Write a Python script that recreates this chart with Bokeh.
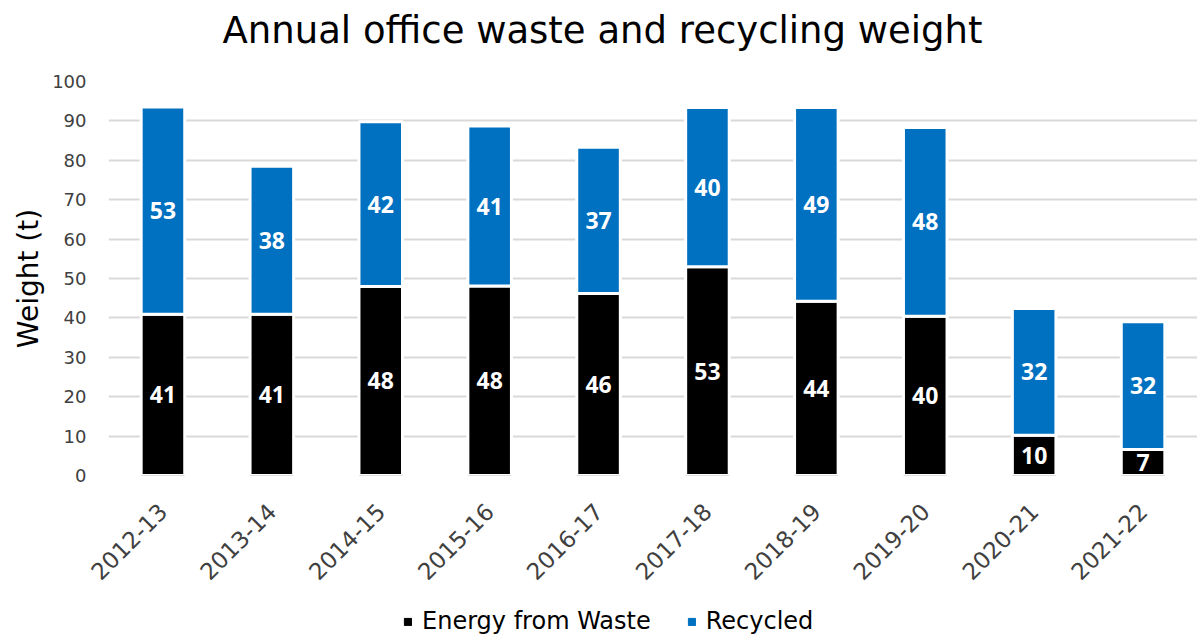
from bokeh.plotting import figure
from bokeh.layouts import column
from bokeh.models import ColumnDataSource, LabelSet, Legend, LegendItem, Range1d, FactorRange
from bokeh.core.properties import value
from bokeh.embed import file_html
from bokeh.resources import INLINE
from math import pi

years = ["2012-13", "2013-14", "2014-15", "2015-16", "2016-17",
         "2017-18", "2018-19", "2019-20", "2020-21", "2021-22"]
energy_from_waste = [40.9, 40.9, 48.0, 48.1, 46.2, 53.0, 44.2, 40.4, 10.2, 6.6]
recycled = [52.6, 37.6, 41.8, 40.6, 37.1, 40.4, 49.2, 47.9, 32.2, 32.4]
y_ticks = [0, 10, 20, 30, 40, 50, 60, 70, 80, 90, 100]
series_names = ["Energy from Waste", "Recycled"]
chart_title = "Annual office waste and recycling weight"

BLACK = "#000000"
BLUE = "#0070C0"
W = 1197


def bare(fig):
    fig.axis.visible = False
    fig.grid.grid_line_color = None
    fig.outline_line_color = None


# title strip
tf = figure(width=W, height=60, x_range=Range1d(0, 1), y_range=Range1d(0, 1),
            output_backend="svg", toolbar_location=None, min_border=0)
bare(tf)
tf.title.text = chart_title
tf.title.align = "left"
tf.title.offset = 114
tf.title.text_font = "DejaVu Sans"
tf.title.text_font_size = "37px"
tf.title.text_font_style = "normal"
tf.title.text_color = "#000000"
tf.title.standoff = 12

src = ColumnDataSource(dict(
    year=years,
    efw=energy_from_waste,
    rec=recycled,
    efw_mid=[e / 2 for e in energy_from_waste],
    rec_mid=[e + r / 2 for e, r in zip(energy_from_waste, recycled)],
    efw_lbl=[str(int(round(e))) for e in energy_from_waste],
    rec_lbl=[str(int(round(r))) for r in recycled],
))

p = figure(width=W, height=543, x_range=FactorRange(*years), y_range=Range1d(0, 100),
           output_backend="svg", toolbar_location=None,
           min_border_left=108, min_border_right=0, min_border_top=21, min_border_bottom=128)

r = p.vbar_stack(["efw", "rec"], x="year", width=0.40, source=src,
                 color=[BLACK, BLUE], line_color="white", line_width=3)

for ycol, tcol in (("efw_mid", "efw_lbl"), ("rec_mid", "rec_lbl")):
    p.add_layout(LabelSet(x="year", y=ycol, text=tcol, source=src,
                          text_color="white", text_font=value("Open Sans"),
                          text_font_style="bold", text_font_size="23px",
                          text_align="center", text_baseline="middle"))

p.yaxis.ticker = y_ticks
p.yaxis.axis_label = "Weight (t)"
p.yaxis.axis_label_text_font = "DejaVu Sans"
p.yaxis.axis_label_text_font_size = "28px"
p.yaxis.axis_label_text_font_style = "normal"
p.yaxis.axis_label_text_color = "#000000"
p.yaxis.axis_label_standoff = 4
p.axis.major_label_text_font = "DejaVu Sans"
p.yaxis.major_label_text_font_size = "18px"
p.xaxis.major_label_text_font_size = "23px"
p.axis.major_label_text_color = "#404040"
p.axis.axis_line_color = None
p.axis.major_tick_line_color = None
p.axis.minor_tick_line_color = None
p.yaxis.major_label_standoff = 16
p.xaxis.major_label_orientation = pi / 4
p.xaxis.major_label_standoff = 26

p.xgrid.grid_line_color = None
p.ygrid.grid_line_color = "#d9d9d9"
p.ygrid.grid_line_width = 2
p.outline_line_color = None

# legend strip below the chart
lg = figure(width=W, height=33, x_range=Range1d(0, 1), y_range=Range1d(0, 1),
            output_backend="svg", toolbar_location=None,
            min_border_left=0, min_border_right=0, min_border_top=3, min_border_bottom=0)
bare(lg)
d0 = lg.vbar(x=[5], top=[5], width=0.1, color=BLACK)
d1 = lg.vbar(x=[5], top=[5], width=0.1, color=BLUE)
legend = Legend(items=[LegendItem(label=series_names[0], renderers=[d0]),
                       LegendItem(label=series_names[1], renderers=[d1])],
                orientation="horizontal", location=(295, 1),
                label_text_font="DejaVu Sans", label_text_font_size="24px",
                label_text_color="#000000", glyph_width=9, glyph_height=9,
                label_height=22, spacing=36, border_line_color=None,
                background_fill_alpha=0, label_standoff=10, padding=0, margin=0)
lg.add_layout(legend)

open("out.html", "w").write(file_html(column(tf, p, lg, spacing=0), INLINE))
